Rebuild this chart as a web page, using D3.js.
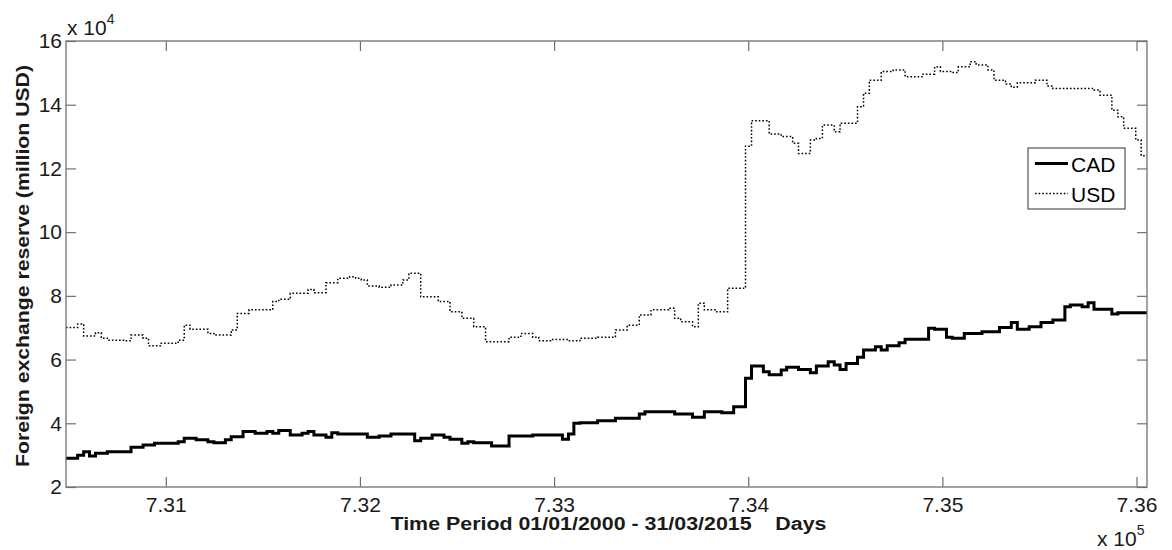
<!DOCTYPE html>
<html>
<head>
<meta charset="utf-8">
<script src="https://cdn.jsdelivr.net/npm/d3@7/dist/d3.min.js"></script>
<style>
  html, body { margin: 0; padding: 0; background: #fff; }
  svg { display: block; font-family: "Liberation Sans", Arial, sans-serif; }
  .pre { white-space: pre; }
</style>
</head>
<body>
<svg id="chart" width="1172" height="550"></svg>
<script>
// Monthly foreign exchange reserves, Jan 2000 – Mar 2015 (units of 10^4 million USD)
const startYear = 2000;
const periodStart = 730486;   // 01/01/2000 as a serial day number
const periodEnd = 736054;     // 31/03/2015

const cadValues = [
  2.90, 2.90, 3.00, 3.11, 2.97, 3.06, 3.06, 3.11, 3.11, 3.11, 3.11, 3.25,
  3.25, 3.32, 3.32, 3.37, 3.37, 3.37, 3.37, 3.42, 3.53, 3.53, 3.48, 3.48,
  3.42, 3.39, 3.39, 3.48, 3.58, 3.58, 3.74, 3.74, 3.69, 3.69, 3.74, 3.69,
  3.77, 3.77, 3.63, 3.63, 3.69, 3.74, 3.63, 3.63, 3.56, 3.70, 3.66, 3.66,
  3.66, 3.66, 3.66, 3.56, 3.56, 3.60, 3.60, 3.66, 3.66, 3.66, 3.66, 3.45,
  3.53, 3.53, 3.63, 3.63, 3.56, 3.50, 3.50, 3.37, 3.42, 3.39, 3.39, 3.39,
  3.29, 3.29, 3.29, 3.60, 3.60, 3.60, 3.60, 3.63, 3.63, 3.63, 3.63, 3.63,
  3.50, 3.66, 4.00, 4.02, 4.02, 4.02, 4.08, 4.08, 4.08, 4.16, 4.16, 4.16,
  4.16, 4.29, 4.36, 4.36, 4.36, 4.36, 4.36, 4.29, 4.29, 4.29, 4.19, 4.19,
  4.36, 4.36, 4.36, 4.33, 4.33, 4.52, 4.52, 5.41, 5.80, 5.80, 5.62, 5.52,
  5.52, 5.67, 5.76, 5.76, 5.69, 5.69, 5.59, 5.80, 5.80, 5.93, 5.83, 5.69,
  5.88, 5.88, 6.07, 6.30, 6.30, 6.40, 6.30, 6.43, 6.43, 6.53, 6.64, 6.64,
  6.64, 6.64, 6.98, 6.95, 6.95, 6.70, 6.67, 6.67, 6.82, 6.82, 6.82, 6.87,
  6.87, 6.87, 7.01, 7.01, 7.16, 6.95, 6.95, 7.03, 7.03, 7.16, 7.16, 7.24,
  7.24, 7.66, 7.71, 7.71, 7.66, 7.78, 7.58, 7.58, 7.58, 7.43, 7.47, 7.47,
  7.47, 7.47, 7.47
];

const usdValues = [
  7.01, 7.01, 7.12, 6.74, 6.74, 6.84, 6.67, 6.61, 6.61, 6.61, 6.59, 6.77,
  6.77, 6.67, 6.43, 6.43, 6.51, 6.51, 6.51, 6.61, 7.08, 6.95, 6.95, 6.95,
  6.82, 6.77, 6.77, 6.77, 6.93, 7.45, 7.45, 7.56, 7.56, 7.56, 7.56, 7.82,
  7.89, 7.89, 8.08, 8.08, 8.08, 8.20, 8.10, 8.10, 8.41, 8.41, 8.55, 8.55,
  8.60, 8.55, 8.50, 8.31, 8.31, 8.27, 8.27, 8.34, 8.34, 8.50, 8.71, 8.71,
  7.97, 7.97, 7.97, 7.82, 7.82, 7.50, 7.50, 7.30, 7.30, 7.03, 7.03, 6.56,
  6.56, 6.56, 6.56, 6.70, 6.70, 6.82, 6.82, 6.70, 6.59, 6.59, 6.63, 6.63,
  6.63, 6.59, 6.59, 6.67, 6.67, 6.67, 6.70, 6.70, 6.70, 6.93, 6.93, 7.08,
  7.08, 7.40, 7.40, 7.56, 7.56, 7.56, 7.61, 7.30, 7.19, 7.19, 7.03, 7.77,
  7.56, 7.56, 7.50, 7.50, 8.24, 8.24, 8.24, 12.70, 13.50, 13.50, 13.50, 13.08,
  13.08, 13.00, 13.00, 12.79, 12.47, 12.47, 12.89, 12.94, 13.36, 13.36, 13.15, 13.42,
  13.42, 13.42, 13.94, 14.36, 14.77, 14.77, 15.04, 15.04, 15.09, 15.09, 14.88, 14.88,
  14.88, 14.96, 14.96, 15.19, 15.04, 15.04, 15.01, 15.19, 15.19, 15.35, 15.25, 15.25,
  15.09, 14.77, 14.77, 14.65, 14.55, 14.69, 14.69, 14.69, 14.77, 14.77, 14.59, 14.51,
  14.51, 14.51, 14.51, 14.51, 14.51, 14.51, 14.46, 14.30, 14.30, 13.83, 13.62, 13.26,
  13.26, 12.89, 12.40
];

const seriesNames = ["CAD", "USD"];
const xTickValues = [731000, 732000, 733000, 734000, 735000, 736000];
const xTickLabels = ["7.31", "7.32", "7.33", "7.34", "7.35", "7.36"];
const yTickValues = [2, 4, 6, 8, 10, 12, 14, 16];
const yTickLabels = ["2", "4", "6", "8", "10", "12", "14", "16"];
const xExponent = "5";
const yExponent = "4";
const xTitle = "Time Period 01/01/2000 - 31/03/2015    Days";
const yTitle = "Foreign exchange reserve (million USD)";

// ---- layout ----
const plotLeft = 66, plotRight = 1147, plotTop = 41, plotBottom = 487;
const axisColor = "#707070";
const textColor = "#1a1a1a";

const svg = d3.select("#chart");

const x = d3.scaleLinear().domain([periodStart, periodEnd]).range([plotLeft, plotRight]);
const y = d3.scaleLinear().domain([2, 16]).range([plotBottom, plotTop]);

// serial day number of the first day of month i counted from Jan 2000
const dayMs = 86400000;
function monthStart(i) {
  const yr = startYear + Math.floor(i / 12), mo = i % 12;
  return periodStart + Math.round((Date.UTC(yr, mo, 1) - Date.UTC(startYear, 0, 1)) / dayMs);
}
function toSteps(values) {
  const pts = values.map((v, i) => ({ d: monthStart(i), v }));
  pts.push({ d: periodEnd, v: values[values.length - 1] });
  return pts;
}

svg.append("defs").append("clipPath").attr("id", "plotClip")
  .append("rect").attr("x", plotLeft).attr("y", plotTop)
  .attr("width", plotRight - plotLeft).attr("height", plotBottom - plotTop);

const line = d3.line().x(p => x(p.d)).y(p => y(p.v)).curve(d3.curveStepAfter);

const plot = svg.append("g").attr("clip-path", "url(#plotClip)");

const usdDash = "1.6,2";

plot.append("path")
  .datum(toSteps(usdValues))
  .attr("d", line)
  .attr("fill", "none")
  .attr("stroke", "#000")
  .attr("stroke-width", 1.5)
  .attr("stroke-dasharray", usdDash);

plot.append("path")
  .datum(toSteps(cadValues))
  .attr("d", line)
  .attr("fill", "none")
  .attr("stroke", "#000")
  .attr("stroke-width", 3)
  .attr("stroke-linejoin", "miter");

// ---- axes (box with inward ticks on all four sides) ----
const tickLen = 10;
const axes = svg.append("g");

const xBottom = d3.axisBottom(x).tickValues(xTickValues).tickSize(-tickLen)
  .tickFormat((d, i) => xTickLabels[i]).tickPadding(10);
const xTop = d3.axisTop(x).tickValues(xTickValues).tickSize(-tickLen).tickFormat("");
const yLeft = d3.axisLeft(y).tickValues(yTickValues).tickSize(-tickLen)
  .tickFormat((d, i) => yTickLabels[i]).tickPadding(4);
const yRight = d3.axisRight(y).tickValues(yTickValues).tickSize(-tickLen).tickFormat("");

function styleAxis(g) {
  g.select(".domain").remove();
  g.selectAll(".tick line").attr("stroke", axisColor).attr("stroke-width", 1.2);
  g.selectAll(".tick text").attr("fill", textColor)
    .style("font-family", "'Liberation Sans', Arial, sans-serif")
    .style("font-size", "21px");
}

axes.append("g").attr("transform", `translate(0,${plotBottom})`).call(xBottom).call(styleAxis);
axes.append("g").attr("transform", `translate(0,${plotTop})`).call(xTop).call(styleAxis);
axes.append("g").attr("transform", `translate(${plotLeft},0)`).call(yLeft).call(styleAxis);
axes.append("g").attr("transform", `translate(${plotRight},0)`).call(yRight).call(styleAxis);

axes.append("rect")
  .attr("x", plotLeft).attr("y", plotTop)
  .attr("width", plotRight - plotLeft).attr("height", plotBottom - plotTop)
  .attr("fill", "none").attr("stroke", axisColor).attr("stroke-width", 1.3);

// ---- exponent multipliers ----
function exponentLabel(px, py, exp) {
  const t = svg.append("text").attr("x", px).attr("y", py)
    .attr("fill", textColor).style("font-size", "21px");
  t.append("tspan").text("x 10");
  t.append("tspan").attr("dy", -11).style("font-size", "14px").text(exp);
}
exponentLabel(67, 35, yExponent);
exponentLabel(1097, 546, xExponent);

// ---- axis titles ----
svg.append("text")
  .attr("class", "pre")
  .attr("x", (plotLeft + plotRight) / 2 + 2).attr("y", 530)
  .attr("text-anchor", "middle")
  .attr("fill", textColor)
  .style("font-size", "18px").style("font-weight", "bold")
  .attr("textLength", 436).attr("lengthAdjust", "spacingAndGlyphs")
  .text(xTitle);

svg.append("text")
  .attr("transform", `translate(29,${(plotTop + plotBottom) / 2 + 2}) rotate(-90)`)
  .attr("text-anchor", "middle")
  .attr("fill", textColor)
  .style("font-size", "18px").style("font-weight", "bold")
  .attr("textLength", 402).attr("lengthAdjust", "spacingAndGlyphs")
  .text(yTitle);

// ---- legend ----
const lg = svg.append("g").attr("transform", "translate(1028,148)");
lg.append("rect").attr("width", 97).attr("height", 61)
  .attr("fill", "#fff").attr("stroke", "#333").attr("stroke-width", 1);
const legendStyles = [
  { w: 3, dash: null },
  { w: 1.5, dash: usdDash }
];
seriesNames.forEach((name, i) => {
  const cy = 15.5 + i * 30;
  lg.append("line").attr("x1", 7).attr("x2", 40).attr("y1", cy).attr("y2", cy)
    .attr("stroke", "#000").attr("stroke-width", legendStyles[i].w)
    .attr("stroke-dasharray", legendStyles[i].dash);
  lg.append("text").attr("x", 43).attr("y", cy + 8)
    .attr("fill", "#000").style("font-size", "21px").text(name);
});
</script>
</body>
</html>
